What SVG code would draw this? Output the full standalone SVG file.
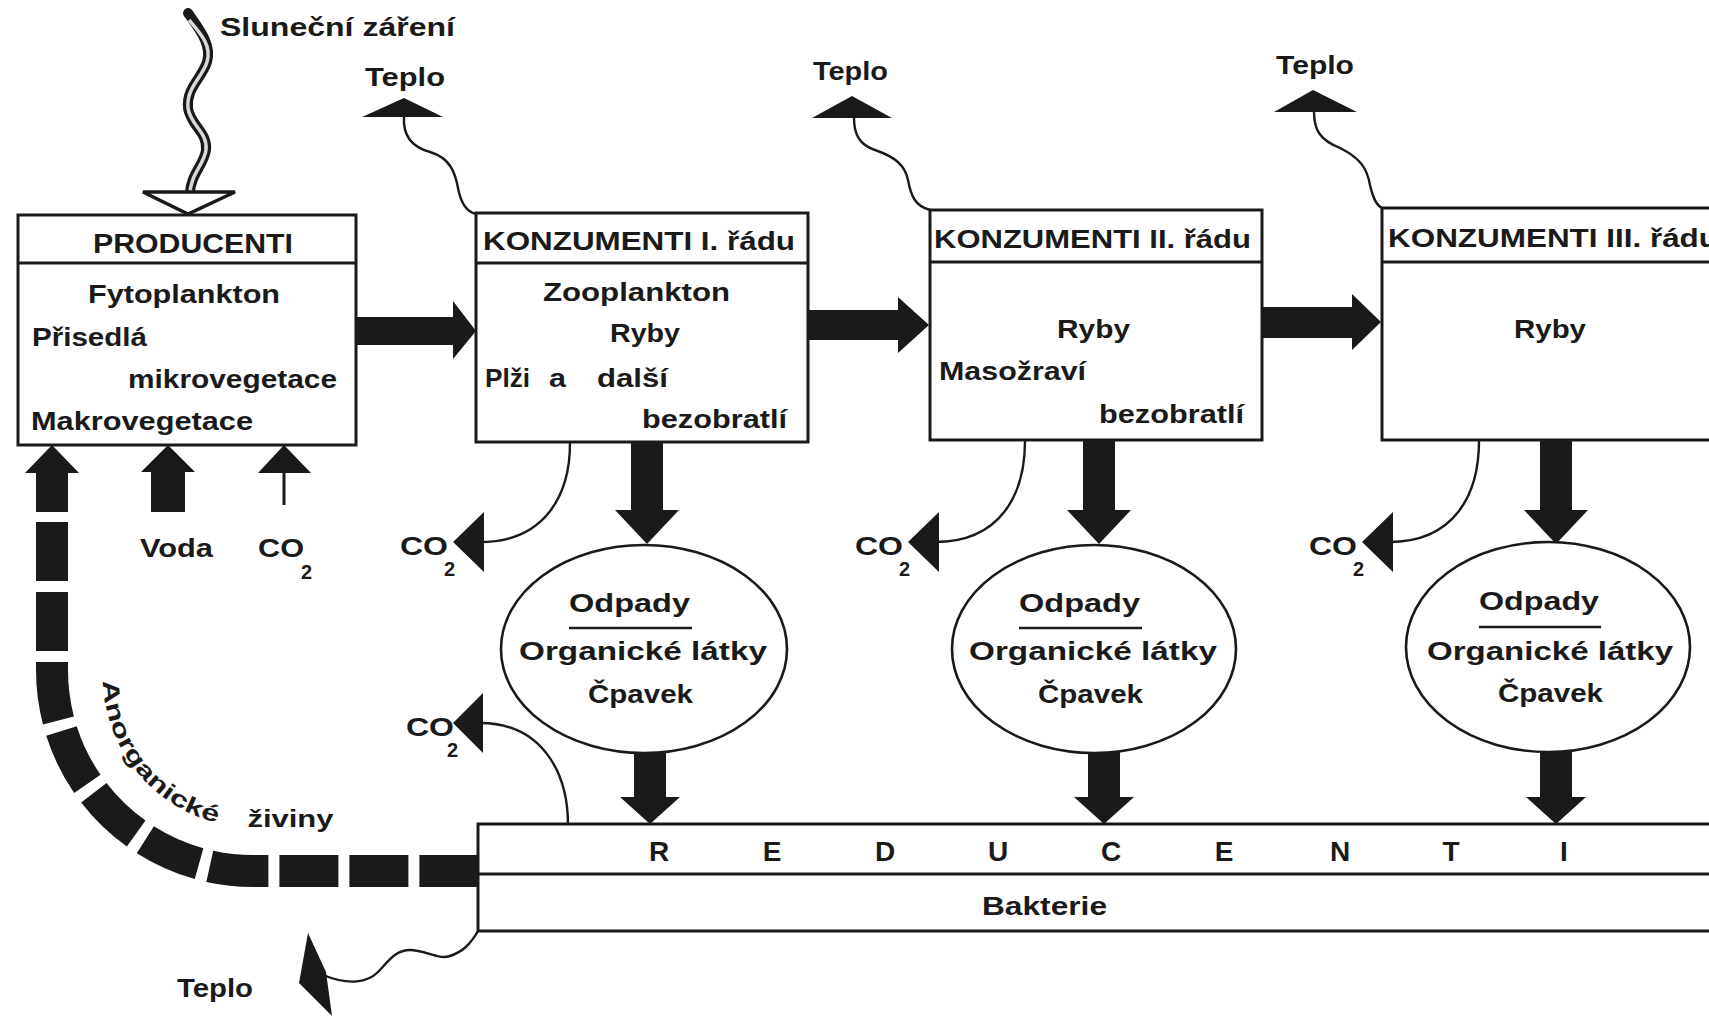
<svg xmlns="http://www.w3.org/2000/svg" width="1709" height="1016" viewBox="0 0 1709 1016">
<style>
.box{fill:#fff;stroke:#1a1a1a;stroke-width:3}
.div{stroke:#1a1a1a;stroke-width:3}
.t{font-family:"Liberation Sans",Arial,sans-serif;font-weight:bold;fill:#1a1a1a;font-size:26px}
.hd{font-size:27px}
.sm{font-size:20px}
.red{font-size:28px;text-anchor:middle}
.thin{fill:none;stroke:#1a1a1a;stroke-width:2.4}
.blk{fill:#1a1a1a}
.ell{fill:#fff;stroke:#1a1a1a;stroke-width:2.6}
</style>
<defs>
<path id="anorgPath" d="M103,677 A150,150 0 0 0 253,827 L430,827"/>
</defs>
<rect width="1709" height="1016" fill="#fff"/>

<g id="connectors">
  <!-- dashed inorganic nutrients return -->
  <path d="M52,522 L52,670 A201,201 0 0 0 253,871 L490,871" fill="none" stroke="#1a1a1a" stroke-width="32" stroke-dasharray="59 11"/>
  <!-- sun radiation -->
  <path d="M188,13 C200,30 212,45 207,62 C202,78 186,88 188,108 C190,125 208,132 206,150 C204,165 190,175 190,194" fill="none" stroke="#1a1a1a" stroke-width="10" stroke-linecap="round"/>
  <path d="M189,20 C200,33 212,45 207,62 C202,78 186,88 188,108 C190,125 208,132 206,150 C204,165 190,175 190,194" fill="none" stroke="#d8d8d8" stroke-width="3.5"/>
  <polygon points="143,192 235,192 188,214" fill="#fff" stroke="#1a1a1a" stroke-width="3.5" stroke-linejoin="miter"/>
  <!-- heat arrows -->
  <path class="thin" d="M404,117 C403,132 408,146 430,152 C450,158 455,172 458,188 C461,204 467,212 476,214"/>
  <polygon class="blk" points="362,117 404,98 443,117"/>
  <path class="thin" d="M854,118 C854,135 860,145 875,150 C895,157 905,165 908,180 C911,196 915,206 930,210"/>
  <polygon class="blk" points="812,118 852,96 892,118"/>
  <path class="thin" d="M1314,112 C1314,130 1320,140 1340,148 C1360,158 1367,168 1370,185 C1373,198 1376,205 1382,208"/>
  <polygon class="blk" points="1274,112 1313,90 1357,112"/>
  <path class="thin" d="M478,931 C470,945 462,952 450,956 C438,960 425,950 410,950 C395,950 388,962 378,972 C368,982 350,986 323,975"/>
  <polygon class="blk" points="308,933 326,972 332,1016 299,983"/>
  <!-- inputs to producers -->
  <polygon class="blk" points="36,512 36,473 25,473 52,445 79,473 68,473 68,512"/>
  <polygon class="blk" points="151,512 151,472 141,472 168,445 195,472 185,472 185,512"/>
  <line x1="284" y1="505" x2="284" y2="470" stroke="#1a1a1a" stroke-width="3"/>
  <polygon class="blk" points="258,473 284,445 311,473"/>
  <!-- trophic flow arrows -->
  <polygon class="blk" points="356,317 453,317 453,301 476,331 453,359 453,345 356,345"/>
  <polygon class="blk" points="808,310 898,310 898,297 929,325 898,353 898,340 808,340"/>
  <polygon class="blk" points="1262,307 1352,307 1352,294 1381,322 1352,350 1352,338 1262,338"/>
  <!-- down arrows to waste -->
  <polygon class="blk" points="631,442 663,442 663,510 679,510 647,544 615,510 631,510"/>
  <polygon class="blk" points="1083,440 1115,440 1115,510 1131,510 1099,544 1067,510 1083,510"/>
  <polygon class="blk" points="1540,440 1572,440 1572,510 1588,510 1556,544 1524,510 1540,510"/>
  <!-- down arrows to reducers -->
  <polygon class="blk" points="634,752 666,752 666,797 680,797 650,824 620,797 634,797"/>
  <polygon class="blk" points="1088,752 1120,752 1120,797 1134,797 1104,824 1074,797 1088,797"/>
  <polygon class="blk" points="1540,752 1572,752 1572,797 1586,797 1556,824 1526,797 1540,797"/>
  <!-- CO2 release -->
  <path class="thin" d="M570,443 C570,495 545,542 480,542"/>
  <polygon class="blk" points="453,542 484,512 484,572"/>
  <path class="thin" d="M1025,441 C1025,495 1000,542 935,542"/>
  <polygon class="blk" points="908,542 939,512 939,572"/>
  <path class="thin" d="M1479,441 C1479,495 1454,542 1389,542"/>
  <polygon class="blk" points="1362,542 1393,512 1393,572"/>
  <path class="thin" d="M568,825 C568,770 540,723 480,723"/>
  <polygon class="blk" points="453,723 483,693 483,753"/>
</g>

<g id="producenti">
  <rect class="box" x="18" y="215" width="338" height="230"/>
  <line class="div" x1="18" y1="263" x2="356" y2="263"/>
  <text class="t hd" x="93" y="253" textLength="200" lengthAdjust="spacingAndGlyphs">PRODUCENTI</text>
  <text class="t" x="88" y="303" textLength="192" lengthAdjust="spacingAndGlyphs">Fytoplankton</text>
  <text class="t" x="32" y="346" textLength="115" lengthAdjust="spacingAndGlyphs">Přisedlá</text>
  <text class="t" x="128" y="388" textLength="209" lengthAdjust="spacingAndGlyphs">mikrovegetace</text>
  <text class="t" x="31" y="430" textLength="222" lengthAdjust="spacingAndGlyphs">Makrovegetace</text>
</g>

<g id="konzumenti1">
  <rect class="box" x="476" y="213" width="332" height="229"/>
  <line class="div" x1="476" y1="263" x2="808" y2="263"/>
  <text class="t" x="483" y="250" textLength="312" lengthAdjust="spacingAndGlyphs">KONZUMENTI I. řádu</text>
  <text class="t" x="543" y="301" textLength="187" lengthAdjust="spacingAndGlyphs">Zooplankton</text>
  <text class="t" x="610" y="342" textLength="70" lengthAdjust="spacingAndGlyphs">Ryby</text>
  <text class="t" x="485" y="387" textLength="45" lengthAdjust="spacingAndGlyphs">Plži</text>
  <text class="t" x="549" y="387" textLength="17" lengthAdjust="spacingAndGlyphs">a</text>
  <text class="t" x="597" y="387" textLength="71" lengthAdjust="spacingAndGlyphs">další</text>
  <text class="t" x="642" y="428" textLength="145" lengthAdjust="spacingAndGlyphs">bezobratlí</text>
</g>

<g id="konzumenti2">
  <rect class="box" x="930" y="210" width="332" height="230"/>
  <line class="div" x1="930" y1="262" x2="1262" y2="262"/>
  <text class="t" x="934" y="248" textLength="317" lengthAdjust="spacingAndGlyphs">KONZUMENTI II. řádu</text>
  <text class="t" x="1057" y="338" textLength="73" lengthAdjust="spacingAndGlyphs">Ryby</text>
  <text class="t" x="939" y="380" textLength="147" lengthAdjust="spacingAndGlyphs">Masožraví</text>
  <text class="t" x="1099" y="423" textLength="145" lengthAdjust="spacingAndGlyphs">bezobratlí</text>
</g>

<g id="konzumenti3">
  <rect class="box" x="1382" y="208" width="340" height="232"/>
  <line class="div" x1="1382" y1="262" x2="1722" y2="262"/>
  <text class="t" x="1388" y="247" textLength="330" lengthAdjust="spacingAndGlyphs">KONZUMENTI III. řádu</text>
  <text class="t" x="1514" y="338" textLength="72" lengthAdjust="spacingAndGlyphs">Ryby</text>
</g>

<g id="odpady1">
  <ellipse class="ell" cx="644" cy="649" rx="143" ry="104"/>
  <text class="t" x="569" y="612" textLength="121" lengthAdjust="spacingAndGlyphs">Odpady</text>
  <line x1="569" y1="628" x2="692" y2="628" stroke="#1a1a1a" stroke-width="2.5"/>
  <text class="t" x="519" y="660" textLength="248" lengthAdjust="spacingAndGlyphs">Organické  látky</text>
  <text class="t" x="588" y="703" textLength="105" lengthAdjust="spacingAndGlyphs">Čpavek</text>
</g>

<g id="odpady2">
  <ellipse class="ell" cx="1094" cy="649" rx="142" ry="104"/>
  <text class="t" x="1019" y="612" textLength="121" lengthAdjust="spacingAndGlyphs">Odpady</text>
  <line x1="1019" y1="628" x2="1142" y2="628" stroke="#1a1a1a" stroke-width="2.5"/>
  <text class="t" x="969" y="660" textLength="248" lengthAdjust="spacingAndGlyphs">Organické  látky</text>
  <text class="t" x="1038" y="703" textLength="105" lengthAdjust="spacingAndGlyphs">Čpavek</text>
</g>

<g id="odpady3">
  <ellipse class="ell" cx="1548" cy="647" rx="142" ry="105"/>
  <text class="t" x="1479" y="610" textLength="120" lengthAdjust="spacingAndGlyphs">Odpady</text>
  <line x1="1479" y1="627" x2="1601" y2="627" stroke="#1a1a1a" stroke-width="2.5"/>
  <text class="t" x="1427" y="660" textLength="246" lengthAdjust="spacingAndGlyphs">Organické  látky</text>
  <text class="t" x="1498" y="702" textLength="105" lengthAdjust="spacingAndGlyphs">Čpavek</text>
</g>

<g id="reducenti">
  <rect class="box" x="478" y="824" width="1250" height="107"/>
  <line class="div" x1="478" y1="874" x2="1728" y2="874"/>
  <text class="t red" x="659" y="861">R</text>
  <text class="t red" x="772" y="861">E</text>
  <text class="t red" x="885" y="861">D</text>
  <text class="t red" x="998" y="861">U</text>
  <text class="t red" x="1111" y="861">C</text>
  <text class="t red" x="1224" y="861">E</text>
  <text class="t red" x="1340" y="861">N</text>
  <text class="t red" x="1451" y="861">T</text>
  <text class="t red" x="1564" y="861">I</text>
  <text class="t" x="982" y="915" textLength="125" lengthAdjust="spacingAndGlyphs">Bakterie</text>
</g>

<g id="labels">
  <text class="t" x="220" y="36" textLength="235" lengthAdjust="spacingAndGlyphs">Sluneční  záření</text>
  <text class="t" x="365" y="86" textLength="80" lengthAdjust="spacingAndGlyphs">Teplo</text>
  <text class="t" x="813" y="80" textLength="75" lengthAdjust="spacingAndGlyphs">Teplo</text>
  <text class="t" x="1276" y="74" textLength="78" lengthAdjust="spacingAndGlyphs">Teplo</text>
  <text class="t" x="177" y="997" textLength="76" lengthAdjust="spacingAndGlyphs">Teplo</text>
  <text class="t" x="140" y="557" textLength="73" lengthAdjust="spacingAndGlyphs">Voda</text>
  <text class="t" x="258" y="557" textLength="46" lengthAdjust="spacingAndGlyphs">CO</text>
  <text class="t sm" x="301" y="579">2</text>
  <text class="t" x="400" y="555" textLength="48" lengthAdjust="spacingAndGlyphs">CO</text>
  <text class="t sm" x="444" y="576">2</text>
  <text class="t" x="855" y="555" textLength="48" lengthAdjust="spacingAndGlyphs">CO</text>
  <text class="t sm" x="899" y="576">2</text>
  <text class="t" x="1309" y="555" textLength="48" lengthAdjust="spacingAndGlyphs">CO</text>
  <text class="t sm" x="1353" y="576">2</text>
  <text class="t" x="406" y="736" textLength="48" lengthAdjust="spacingAndGlyphs">CO</text>
  <text class="t sm" x="447" y="757">2</text>
  <text class="t" style="font-size:23px"><textPath href="#anorgPath" startOffset="4" textLength="195" lengthAdjust="spacingAndGlyphs">Anorganické</textPath></text>
  <text class="t" style="font-size:23px"><textPath href="#anorgPath" startOffset="230" textLength="86" lengthAdjust="spacingAndGlyphs">živiny</textPath></text>
</g>
</svg>
